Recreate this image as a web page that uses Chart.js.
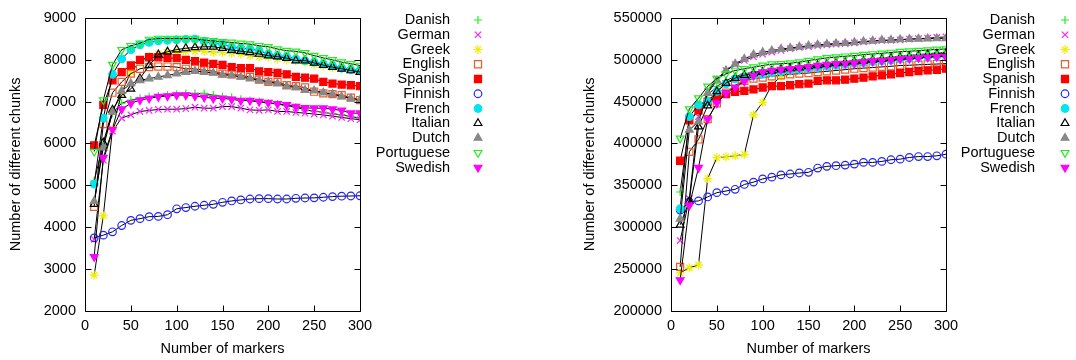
<!DOCTYPE html>
<html>
<head>
<meta charset="utf-8">
<script src="https://cdn.jsdelivr.net/npm/chart.js@4/dist/chart.umd.min.js"></script>
<style>
html,body{margin:0;padding:0;background:#fff;}
#wrap{position:relative;width:1076px;height:360px;overflow:hidden;}
canvas{position:absolute;top:0;}
#c1{left:0;} #c2{left:538px;}
</style>
</head>
<body>
<div id="wrap">
<canvas id="c1" width="538" height="360"></canvas>
<canvas id="c2" width="538" height="360"></canvas>
</div>
<script>
// ---------- data ----------
const markers = [10,20,30,40,50,60,70,80,90,100,110,120,130,140,150,160,170,180,190,200,210,220,230,240,250,260,270,280,290,300];
const languages = ['Danish','German','Greek','English','Spanish','Finnish','French','Italian','Dutch','Portuguese','Swedish'];

// left panel
const leftDanish = [5100,6000,6720,6958,7035,7075,7115,7129,7153,7176,7193,7193,7193,7153,7115,7100,7052,7021,6998,6958,6943,6894,6864,6800,6770,6740,6710,6680,6640,6605];
const leftGerman = [3710,5600,6292,6605,6683,6762,6786,6810,6816,6816,6830,6864,6840,6840,6880,6880,6840,6800,6790,6800,6762,6762,6739,6722,6700,6680,6650,6620,6590,6566];
const leftGreek = [2856,4270,6346,7200,7700,7950,8080,8140,8170,8180,8190,8198,8198,8174,8174,8151,8134,8094,8071,8056,8016,7993,7977,7939,7880,7850,7810,7780,7750,7720];
const leftEnglish = [4487,6460,7210,7468,7664,7781,7821,7835,7835,7821,7781,7781,7742,7727,7664,7647,7624,7586,7522,7468,7468,7388,7365,7334,7233,7193,7176,7153,7092,7035];
const leftSpanish = [5950,6918,7506,7703,7859,7993,8056,8056,8040,8033,7993,7962,7929,7899,7875,7821,7797,7797,7718,7703,7680,7647,7586,7569,7546,7468,7428,7405,7388,7365];
const leftFinnish = [3745,3810,3890,4040,4164,4204,4251,4258,4298,4439,4469,4500,4524,4547,4594,4627,4650,4673,4681,4681,4673,4673,4690,4697,4700,4715,4730,4740,4745,4750];
const leftFrench = [5030,6605,7650,8016,8235,8353,8409,8447,8460,8470,8480,8487,8433,8393,8369,8291,8275,8252,8212,8134,8094,8071,8016,7977,7940,7900,7859,7800,7758,7742];
const leftItalian = [4550,6016,6800,7150,7300,7550,7860,8118,8188,8240,8270,8291,8306,8306,8275,8228,8200,8174,8134,8094,8071,8033,7977,7977,7920,7870,7820,7780,7740,7703];
const leftDutch = [4620,5900,6750,7250,7430,7506,7546,7586,7624,7664,7703,7727,7703,7680,7640,7624,7586,7546,7506,7468,7428,7365,7334,7271,7256,7210,7176,7115,7075,7035];
const leftPortuguese = [5805,7035,7882,8235,8330,8390,8480,8503,8503,8503,8503,8503,8463,8447,8424,8409,8386,8369,8330,8306,8252,8212,8198,8160,8094,8040,7993,7939,7899,7859];
const leftSwedish = [3294,5663,6330,6816,6958,7035,7075,7115,7129,7153,7153,7129,7100,7075,7075,7052,7021,7021,6998,6974,6943,6918,6880,6850,6840,6840,6816,6786,6722,6722];

// right panel
const rightDanish = [342000,425000,440000,458000,468000,475000,480000,483000,485000,487000,488000,489000,490500,491500,493000,494000,495000,496000,497500,499000,500000,501000,502000,503000,504000,505000,506000,507000,508000,508500];
const rightGerman = [284000,334000,432000,462000,477000,487000,494000,499000,503500,506500,509000,511000,513000,514500,515500,516800,517500,518500,519000,520000,521000,522000,522500,523000,523500,524500,525000,525500,526500,527000];
const rightGreek = [245500,251500,255000,358000,383000,384000,385200,387000,434000,449000,470000,480000,485000,487500,489500,491000,492500,494000,495000,496000,497000,498000,499000,500000,501000,502000,503000,504000,505000,506000];
const rightEnglish = [252600,390000,404700,429000,447900,460500,469400,474600,477300,478500,480000,481200,482400,483200,484000,485200,486000,487000,488000,489100,489800,490500,491300,492000,492900,493300,493800,494300,494700,495200];
const rightSpanish = [379300,427500,439300,449900,453800,458800,461600,462800,464400,466700,468300,468300,469400,470600,471400,474600,475300,475300,476100,477300,478500,480000,481200,482400,484000,485200,486400,487100,487900,489100];
const rightFinnish = [320500,330200,331400,336100,341200,343200,345200,351000,353800,357600,359700,362400,363500,364700,365500,370600,372600,373400,374100,375300,377300,377300,378500,380500,381200,383200,384300,384300,385200,387100];
const rightFrench = [322000,432000,446000,450000,462000,471000,477000,479000,481000,482500,484000,485500,487000,488200,489500,490700,492000,493200,494400,495500,496500,497500,498500,499500,500500,501500,502500,503300,504000,504700];
const rightItalian = [302800,331000,420000,445000,462000,472000,478000,481500,483500,485000,486500,488000,489500,490500,492000,493000,494200,495400,496500,497500,498500,499500,500500,501500,502500,503500,504700,505800,506800,507500];
const rightDutch = [310000,416000,426000,460000,475000,487000,494900,500800,505900,508700,510600,512600,513800,515300,516500,517700,518500,519300,519500,520500,521600,522400,523200,523300,524000,524400,524700,525000,525200,525300];
const rightPortuguese = [406000,441000,454000,468000,477300,483000,487000,489000,491000,493000,494500,495000,495700,497000,498800,500500,502000,503000,504000,504700,505900,506700,507500,508500,509400,510000,510600,511400,512200,512600];
const rightSwedish = [237000,326000,371000,429000,448000,460000,467000,474000,481000,485000,487000,488000,489000,490200,491000,492900,494000,494900,495300,495700,496900,498100,498800,499600,500800,501300,502000,502800,503500,503500];

const xTicks = [0,50,100,150,200,250,300];
const leftYTicks = [2000,3000,4000,5000,6000,7000,8000,9000];
const rightYTicks = [200000,250000,300000,350000,400000,450000,500000,550000];

const leftSeries = [leftDanish,leftGerman,leftGreek,leftEnglish,leftSpanish,leftFinnish,leftFrench,leftItalian,leftDutch,leftPortuguese,leftSwedish];
const rightSeries = [rightDanish,rightGerman,rightGreek,rightEnglish,rightSpanish,rightFinnish,rightFrench,rightItalian,rightDutch,rightPortuguese,rightSwedish];

// ---------- styles ----------
const FONT = "'Liberation Sans', Arial, Helvetica, sans-serif";
const FS = 14.5;
const markerStyles = [
  {pointStyle:'cross',    color:'#22ee22', fill:false, radius:4,   rotation:0},
  {pointStyle:'crossRot', color:'#ff22ff', fill:false, radius:4.5, rotation:0},
  {pointStyle:'star',     color:'#eeee00', fill:false, radius:4.5, rotation:0},
  {pointStyle:'rect',     color:'#f05a28', fill:false, radius:5,   rotation:0},
  {pointStyle:'rect',     color:'#ff0000', fill:true,  radius:5,   rotation:0},
  {pointStyle:'circle',   color:'#2222ff', fill:false, radius:3.8, rotation:0},
  {pointStyle:'circle',   color:'#00e5ee', fill:true,  radius:3.8, rotation:0},
  {pointStyle:'triangle', color:'#000000', fill:false, radius:4.5, rotation:0},
  {pointStyle:'triangle', color:'#888888', fill:true,  radius:4.5, rotation:0},
  {pointStyle:'triangle', color:'#22ee22', fill:false, radius:4.5, rotation:180},
  {pointStyle:'triangle', color:'#ff00ff', fill:true,  radius:4.5, rotation:180}
];

function makeDatasets(series){
  return series.map((vals,i)=>{
    const m = markerStyles[i];
    return {
      label: languages[i],
      data: markers.map((x,k)=>({x:x, y:vals[k]})),
      borderColor:'#000000',
      borderWidth:1,
      pointStyle:m.pointStyle,
      pointRadius:m.radius,
      pointRotation:m.rotation,
      pointBorderColor:m.color,
      pointBackgroundColor:m.fill ? m.color : 'rgba(0,0,0,0)',
      pointBorderWidth:1.2,
      tension:0,
      fill:false,
      order: series.length - i
    };
  });
}

// frame + inward ticks + legend plugin
const framePlugin = {
  id:'frame',
  afterDraw(chart, args, opts){
    const ctx = chart.ctx, a = chart.chartArea;
    const xs = chart.scales.x, ys = chart.scales.y;
    ctx.save();
    ctx.strokeStyle = '#000';
    ctx.lineWidth = 1;
    const L = Math.round(a.left)+0.5, R = Math.round(a.right)+0.5, T = Math.round(a.top)+0.5, B = Math.round(a.bottom)+0.5;
    ctx.beginPath();
    ctx.rect(L, T, R-L, B-T);
    ctx.stroke();
    const tl = 6;
    ctx.beginPath();
    opts.xTicks.forEach(v=>{
      const px = Math.round(xs.getPixelForValue(v))+0.5;
      ctx.moveTo(px,B); ctx.lineTo(px,B-tl);
      ctx.moveTo(px,T); ctx.lineTo(px,T+tl);
    });
    opts.yTicks.forEach(v=>{
      const py = Math.round(ys.getPixelForValue(v))+0.5;
      ctx.moveTo(L,py); ctx.lineTo(L+tl,py);
      ctx.moveTo(R,py); ctx.lineTo(R-tl,py);
    });
    ctx.stroke();
    // legend
    ctx.font = FS + 'px ' + FONT;
    ctx.textAlign = 'right';
    ctx.textBaseline = 'middle';
    chart.data.datasets.forEach((ds,i)=>{
      const y = opts.legendTop + i*opts.legendStep;
      ctx.fillStyle = '#000';
      ctx.fillText(ds.label, opts.legendTextRight, y);
      const m = markerStyles[i];
      ctx.strokeStyle = m.color;
      ctx.fillStyle = m.fill ? m.color : 'rgba(0,0,0,0)';
      ctx.lineWidth = 1.2;
      Chart.helpers.drawPoint(ctx, {pointStyle:m.pointStyle, radius:m.radius, rotation:m.rotation, borderWidth:1.2}, opts.legendMarkerX, y);
    });
    ctx.restore();
  }
};

function makeChart(id, series, yMin, yMax, yStep, yTicks, yWidth, titlePad, padRight, legend){
  return new Chart(document.getElementById(id), {
    type:'line',
    data:{datasets: makeDatasets(series)},
    plugins:[framePlugin],
    options:{
      responsive:false,
      animation:false,
      events:[],
      layout:{padding:{left:0, top:13, right:padRight, bottom:0}},
      plugins:{
        legend:{display:false},
        tooltip:{enabled:false},
        frame:Object.assign({xTicks:xTicks, yTicks:yTicks}, legend)
      },
      scales:{
        x:{
          type:'linear', min:0, max:300,
          grid:{display:false, drawTicks:false}, border:{display:false},
          afterBuildTicks(s){ s.ticks = xTicks.map(v=>({value:v})); },
          afterFit(s){ s.height = 49; },
          ticks:{color:'#000', padding:6, font:{family:FONT, size:FS}, maxRotation:0, autoSkip:false},
          title:{display:true, text:'Number of markers', color:'#000', font:{family:FONT, size:FS}, padding:{top:0,bottom:2}}
        },
        y:{
          type:'linear', min:yMin, max:yMax,
          grid:{display:false, drawTicks:false}, border:{display:false},
          afterBuildTicks(s){ s.ticks = yTicks.map(v=>({value:v})); },
          afterFit(s){ s.width = yWidth; },
          ticks:{color:'#000', padding:9, font:{family:FONT, size:FS}, autoSkip:false, callback:v=>String(v)},
          title:{display:true, text:'Number of different chunks', color:'#000', font:{family:FONT, size:FS}, padding:{top:titlePad,bottom:0}}
        }
      }
    }
  });
}

makeChart('c1', leftSeries, 2000, 9000, 1000, leftYTicks, 85, 7, 178,
  {legendTop:20, legendStep:14.75, legendTextRight:450, legendMarkerX:478});
makeChart('c2', rightSeries, 200000, 550000, 50000, rightYTicks, 133, 43, 130,
  {legendTop:20, legendStep:14.75, legendTextRight:497, legendMarkerX:527});
</script>
</body>
</html>
